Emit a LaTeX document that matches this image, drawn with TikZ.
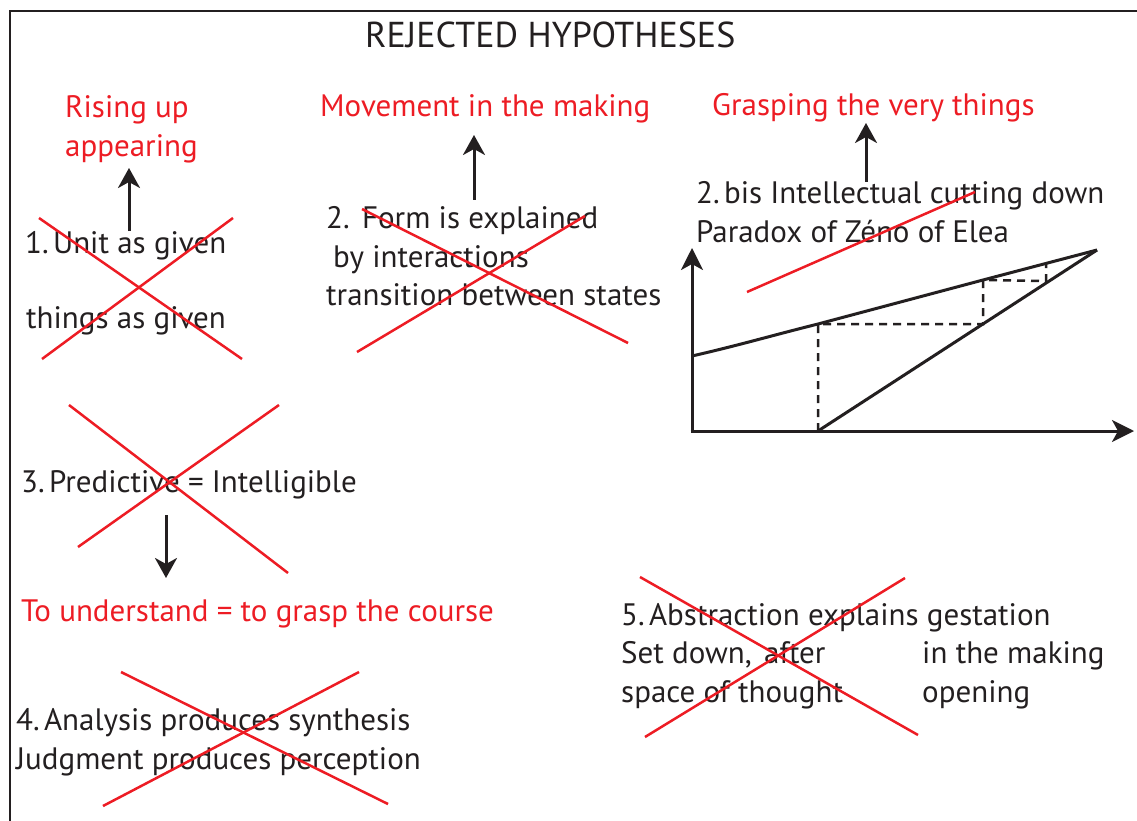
\documentclass[tikz,border=0pt]{standalone}
\usepackage{fontspec}
\setmainfont{PT Sans}
\usetikzlibrary{arrows.meta}
\definecolor{myred}{RGB}{237,28,36}
\definecolor{ink}{RGB}{35,31,32}
\newcommand{\nsp}{\hspace{0.14em}}
\begin{document}
\begin{tikzpicture}[x=1pt,y=-1pt,
  txt/.style={anchor=base west,inner sep=0pt,text=ink,font=\fontsize{31}{37}\selectfont},
  rtxt/.style={txt,text=myred},
  crossline/.style={draw=myred,line width=2.5pt},
  arr/.style={draw=ink,line width=3pt,-{Stealth[length=20pt,width=22pt,inset=6pt]}},
  axis/.style={draw=ink,line width=3pt,-{Stealth[length=22pt,width=22pt,inset=6pt]}},
  curve/.style={draw=ink,line width=3pt},
  dashline/.style={draw=ink,line width=2.5pt,dash pattern=on 8pt off 6pt}]
\useasboundingbox (0,0) rectangle (1137,821);
\draw[ink,line width=2.5pt] (10,821) -- (10,11) -- (1137,11);

% texts
\node[txt,font=\fontsize{36}{40}\selectfont] (title) at (365,48) {REJECTED HYPOTHESES};
\node[rtxt] (r1a) at (65,118) {Rising up};
\node[rtxt] (r1b) at (65,157) {appearing};
\node[rtxt] (r2) at (320,117) {Movement in the making};
\node[rtxt] (r3) at (712,116) {Grasping the very things};
\node[txt] (h1a) at (25,253) {1.\nsp Unit as given};
\node[txt] (h1b) at (26,328) {things as given};
\node[txt] (h2a) at (326,229) {2.\hspace{0.4em}Form is explained};
\node[txt] (h2b) at (333,267) {by interactions};
\node[txt] (h2c) at (326,305) {transition between states};
\node[txt] (h2d) at (696,204) {2.\nsp bis Intellectual cutting down};
\node[txt] (h2e) at (696,242) {Paradox of Zéno of Elea};
\node[txt] (h3) at (21,492) {3.\nsp Predictive = Intelligible};
\node[rtxt] (r4) at (21,621) {To understand = to grasp the course};
\node[txt] (h4a) at (16,730) {4.\nsp Analysis produces synthesis};
\node[txt] (h4b) at (16,769) {Judgment produces perception};
\node[txt] (h5a) at (621,625) {5.\nsp Abstraction explains gestation};
\node[txt] (h5b) at (621,663) {Set down,\hspace{0.4em}after};
\node[txt] (h5c) at (922,663) {in the making};
\node[txt] (h5d) at (621,702) {space of thought};
\node[txt] (h5e) at (922,702) {opening};

% arrows
\coordinate (a1s) at (129,231); \coordinate (a1e) at (129,168);
\coordinate (a2s) at (474,200); \coordinate (a2e) at (474,135);
\coordinate (a3s) at (866,182); \coordinate (a3e) at (866,123);
\coordinate (a4s) at (166,515); \coordinate (a4e) at (166,578);
\draw[arr] (a1s) -- (a1e);
\draw[arr] (a2s) -- (a2e);
\draw[arr] (a3s) -- (a3e);
\draw[arr] (a4s) -- (a4e);

% graph
\coordinate (O) at (692,431);
\coordinate (ytip) at (692,248);
\coordinate (xtip) at (1134,431);
\coordinate (p0) at (692,356);
\coordinate (p1) at (818,324);
\coordinate (p2) at (983,280);
\coordinate (p3) at (1046,263);
\coordinate (top) at (1097,250);
\coordinate (b0) at (818,431);
\coordinate (b1) at (983,324);
\coordinate (b2) at (1046,281);
\draw[dashline] (b0) -- (p1) -- (b1) -- (p2) -- (b2) -- (p3);
\draw[curve] (p0) .. controls (740,345) and (770,336) .. (p1) -- (p2) -- (top);
\draw[curve] (b0) -- (top);
\draw[axis] (O) -- (ytip);
\draw[axis] ([xshift=-1.5pt]O) -- (xtip);
\draw[crossline] (747,292) -- (975,192);

% crosses
\draw[crossline] (39,218) -- (242,359);
\draw[crossline] (42,359) -- (233,218);
\draw[crossline] (362,209) -- (628,343);
\draw[crossline] (357,352) -- (585,216);
\draw[crossline] (69,405) -- (288,573);
\draw[crossline] (78,547) -- (279,405);
\draw[crossline] (121,672) -- (388,804);
\draw[crossline] (103,806) -- (359,672);
\draw[crossline] (640,577) -- (918,735);
\draw[crossline] (645,737) -- (905,578);
\end{tikzpicture}
\end{document}
